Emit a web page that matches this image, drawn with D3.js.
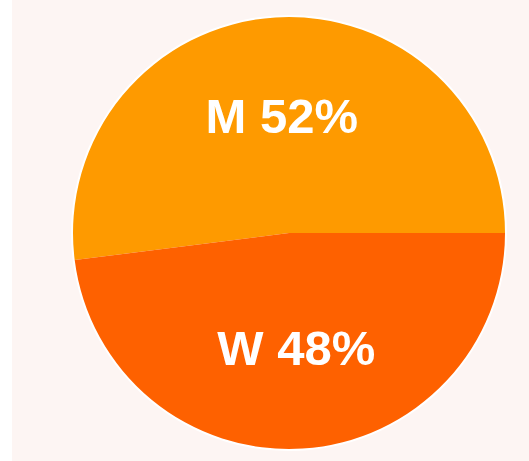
<!DOCTYPE html>
<html>
<head>
<meta charset="utf-8">
<script src="https://cdn.jsdelivr.net/npm/d3@7"></script>
<style>
  body { margin: 0; background: #fff; }
  .label { font-family: "Liberation Sans", Arial, sans-serif; font-weight: bold; fill: #fff; }
</style>
</head>
<body>
<svg id="pie" width="529" height="461"></svg>
<script>
  const categories = ['M', 'W']
  const values = [52, 48]
  const colors = ['#fe9a00', '#fe6100']

  const svg = d3.select('#pie')
  const width = +svg.attr('width')
  const height = +svg.attr('height')

  svg.append('rect')
    .attr('x', 12).attr('y', 0)
    .attr('width', width - 12).attr('height', height)
    .attr('fill', '#fdf5f3')

  const cx = 289
  const cy = 233
  const radius = 216

  const data = categories.map((c, i) => ({ name: c, value: values[i] }))

  const pie = d3.pie()
    .value(d => d.value)
    .sort(null)
    .startAngle(Math.PI / 2)
    .endAngle(Math.PI / 2 - 2 * Math.PI)

  const arc = d3.arc().innerRadius(0).outerRadius(radius)
  const labelArc = d3.arc().innerRadius(116).outerRadius(116)

  const color = d3.scaleOrdinal().domain(categories).range(colors)

  const g = svg.append('g').attr('transform', `translate(${cx},${cy})`)

  g.append('circle').attr('r', radius + 2).attr('fill', '#fff')

  const arcs = pie(data)

  g.selectAll('path')
    .data(arcs)
    .enter().append('path')
    .attr('d', arc)
    .attr('fill', d => color(d.data.name))

  g.selectAll('text')
    .data(arcs)
    .enter().append('text')
    .attr('class', 'label')
    .attr('transform', d => `translate(${labelArc.centroid(d)})`)
    .attr('text-anchor', 'middle')
    .attr('dy', '0.33em')
    .style('font-size', '49px')
    .text(d => `${d.data.name} ${d.data.value}%`)
</script>
</body>
</html>
